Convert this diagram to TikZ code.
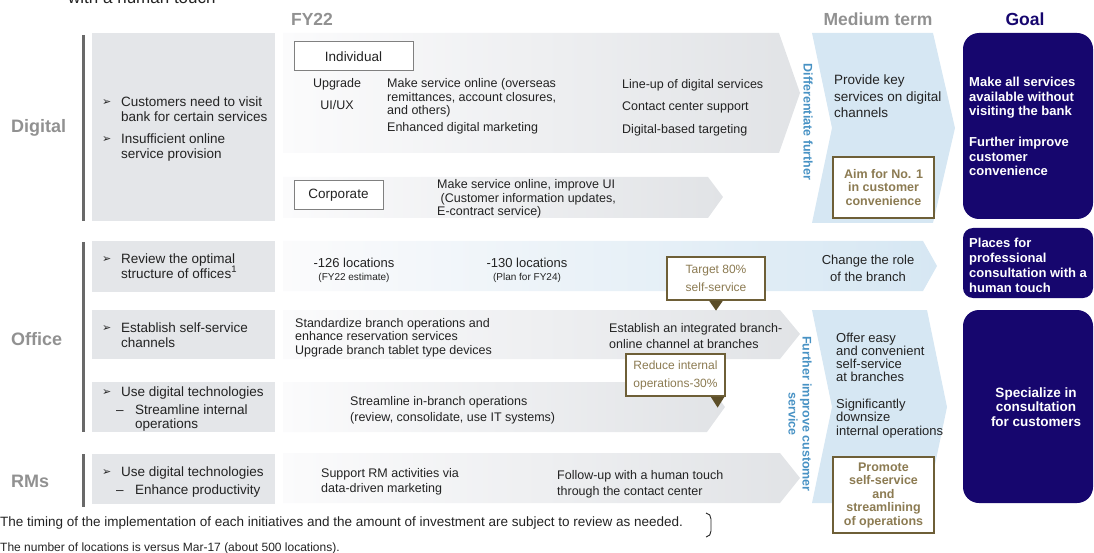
\documentclass[tikz,border=0pt]{standalone}
\usepackage{fontspec}
\setmainfont{Liberation Sans}
\newfontfamily\symfont{DejaVu Sans}

\newcommand{\fsz}[2]{\fontsize{#1}{#2}\selectfont}

\definecolor{headgray}{RGB}{145,145,145}
\definecolor{boxgray}{RGB}{228,230,233}
\definecolor{bargray}{RGB}{105,105,105}
\definecolor{arrowgray}{RGB}{225,227,230}
\definecolor{arrowwhite}{RGB}{251,251,252}
\definecolor{medblue}{RGB}{214,231,243}
\definecolor{vertblue}{RGB}{72,146,196}
\definecolor{goalnavy}{RGB}{22,6,110}
\definecolor{oliveline}{RGB}{110,95,55}
\definecolor{olivetxt}{RGB}{140,123,82}
\definecolor{olivedark}{RGB}{92,78,40}
\definecolor{txtdark}{RGB}{35,35,35}

\tikzset{
  heading/.style={anchor=base, inner sep=0, font=\bfseries\fsz{17.5}{18}, text=headgray},
  rowlabel/.style={anchor=west, inner sep=0, font=\bfseries\fsz{18}{19}, text=headgray},
  bar/.style={line width=3, bargray},
  bulletsym/.style={anchor=base west, inner sep=0, font=\symfont\fsz{11}{11}, text=txtdark},
  lefttxt/.style={anchor=base west, inner sep=0, align=left, font=\fsz{13.5}{15}, text=txtdark},
  fytxt/.style={anchor=base west, inner sep=0, align=left, font=\fsz{12.5}{13.5}, text=txtdark},
  smalltxt/.style={anchor=base, inner sep=0, font=\fsz{10}{11}, text=txtdark},
  medtxt/.style={anchor=base west, inner sep=0, align=left, font=\fsz{13}{13}, text=txtdark},
  goaltxt/.style={anchor=base west, inner sep=0, align=left, font=\bfseries\fsz{13}{14.5}, text=white},
  catbox/.style={draw=gray, line width=1, fill=white, inner sep=0, minimum height=29, font=\fsz{13.5}{14}, text=txtdark},
  olivebox/.style={draw=oliveline, line width=2, fill=white, inner sep=0, minimum width=101, align=center, font=\bfseries\fsz{12.5}{13.5}, text=olivetxt},
  callout/.style={draw=oliveline, line width=1.2, fill=white, inner sep=0, align=center, font=\fsz{12}{18}, text=olivetxt},
  verttxt/.style={inner sep=0, rotate=-90, align=center, font=\bfseries\fsz{12.5}{14}, text=vertblue},
  goalbox/.style={fill=goalnavy, rounded corners=16}
}

\begin{document}
\begin{tikzpicture}[x=1pt,y=-1pt]
\useasboundingbox (0,0) rectangle (1094,553);

%TITLE LINE (cut off at the top)
\node[anchor=base west, inner sep=0, font=\fsz{17}{18}, text=txtdark] (toptxt) at (68,4) {with a human touch};

%HEADINGS
\node[heading] (hfy) at (312,26) {FY22};
\node[heading] (hmed) at (878,26) {Medium term};
\node[heading, text=goalnavy] (hgoal) at (1025,26) {Goal};

%ROW LABELS AND BARS
\node[rowlabel] (ldig) at (11,128) {Digital};
\node[rowlabel] (loff) at (11,339) {Office};
\node[rowlabel] (lrms) at (11,481) {RMs};
\draw[bar] (83,35) -- (83,221);
\draw[bar] (83,242) -- (83,432);
\draw[bar] (83,454) -- (83,507);

%LEFT BOXES
\fill[boxgray] (92,33) rectangle (275,221);
\fill[boxgray] (92,241) rectangle (275,292);
\fill[boxgray] (92,310) rectangle (275,359);
\fill[boxgray] (92,382) rectangle (275,432);
\fill[boxgray] (92,454) rectangle (275,504);

%MEDIUM TERM CHEVRONS
\fill[medblue] (812,33) -- (933,33) -- (955,128) -- (933,223) -- (812,223) -- (832,128) -- cycle;
\fill[medblue] (812,310) -- (927,310) -- (947,407) -- (927,503) -- (812,503) -- (832,407) -- cycle;

%FY22 ARROWS
\shade[left color=arrowwhite, right color=arrowgray] (283,33) -- (779,33) -- (800,93) -- (779,153) -- (283,153) -- cycle;
\shade[left color=arrowwhite, right color=arrowgray] (283,177) -- (708,177) -- (723,197) -- (708,218) -- (283,218) -- cycle;
\shade[left color=arrowwhite, right color=medblue] (283,241) -- (923,241) -- (937,266) -- (923,291) -- (283,291) -- cycle;
\shade[left color=arrowwhite, right color=arrowgray] (283,310) -- (780,310) -- (800,334) -- (780,359) -- (283,359) -- cycle;
\shade[left color=arrowwhite, right color=arrowgray] (283,382) -- (707,382) -- (725,407) -- (707,432) -- (283,432) -- cycle;
\shade[left color=arrowwhite, right color=arrowgray] (283,453) -- (780,453) -- (800,478) -- (780,503) -- (283,503) -- cycle;

%GOAL BOXES
\fill[goalbox] (963,33) rectangle (1093,219);
\fill[goalbox, rounded corners=10] (963,228) rectangle (1093,298);
\fill[goalbox] (963,310) rectangle (1093,503);

%ROW DIGITAL (base = last line)
\node[bulletsym] (bdig1) at (102,106) {➢};
\node[lefttxt] (tdig1) at (121,122) {Customers need to visit\\bank for certain services};
\node[bulletsym] (bdig2) at (102,143) {➢};
\node[lefttxt] (tdig2) at (121,159) {Insufficient online\\service provision};

\node[catbox, minimum width=119] (indiv) at (353.5,56.5) {Individual};
\node[fytxt, anchor=base] (upg) at (337,88) {Upgrade};
\node[fytxt, anchor=base] (uiux) at (337,110) {UI/UX};
\node[fytxt] (online) at (387,115) {Make service online (overseas\\remittances, account closures,\\and others)};
\node[fytxt] (mkt) at (387,132) {Enhanced digital marketing};
\node[fytxt] (lineup) at (622,89) {Line-up of digital services};
\node[fytxt] (contact) at (622,111) {Contact center support};
\node[fytxt] (target) at (622,134) {Digital-based targeting};

\node[catbox, minimum width=89] (corp) at (338.5,195.5) {Corporate};
\node[fytxt] (corptxt) at (437,216) {Make service online, improve UI\\\ (Customer information updates,\\E-contract service)};

\node[medtxt, font=\fsz{13.5}{16.5}] (provide) at (834,118) {Provide key\\services on digital\\channels};
\node[olivebox, minimum height=61] (aim) at (883.5,187.5) {Aim for No. 1\\in customer\\convenience};
\node[verttxt] (vdiff) at (808,122) {Differentiate further};

\node[goaltxt] (gmake) at (969,116) {Make all services\\available without\\visiting the bank};
\node[goaltxt] (gfurther) at (969,176) {Further improve\\customer\\convenience};

%ROW OFFICE 1
\node[bulletsym] (boff1) at (102,262) {➢};
\node[lefttxt] (toff1) at (121,278) {Review the optimal\\structure of offices\textsuperscript{1}};
\node[fytxt, anchor=base, font=\fsz{13}{14}] (loc126) at (354,267) {-126 locations};
\node[smalltxt] (est22) at (354,280) {(FY22 estimate)};
\node[fytxt, anchor=base, font=\fsz{13}{14}] (loc130) at (527,267) {-130 locations};
\node[smalltxt] (plan24) at (527,280) {(Plan for FY24)};
\node[medtxt, anchor=base, align=center, font=\fsz{13}{17}] (role) at (868,281) {Change the role\\of the branch};
\node[goaltxt, font=\bfseries\fsz{13}{15}] (gplaces) at (969,292) {Places for\\professional\\consultation with a\\human touch};

%ROW OFFICE 2
\node[bulletsym] (boff2) at (102,331) {➢};
\node[lefttxt] (toff2) at (121,347) {Establish self-service\\channels};
\node[fytxt] (stand) at (295,354) {Standardize branch operations and\\enhance reservation services\\Upgrade branch tablet type devices};
\node[fytxt, font=\fsz{12.5}{16}] (integ) at (609,348) {Establish an integrated branch-\\online channel at branches};

%ROW OFFICE 3
\node[bulletsym] (boff3) at (102,395) {➢};
\node[lefttxt] (toff3) at (121,396) {Use digital technologies};
\node[lefttxt] (doff3) at (116,414) {--};
\node[lefttxt, font=\fsz{13.5}{14}] (soff3) at (135,428) {Streamline internal\\operations};
\node[fytxt, font=\fsz{12.5}{16}] (stream) at (350,421) {Streamline in-branch operations\\(review, consolidate, use IT systems)};

\node[medtxt] (offer) at (836,381) {Offer easy\\and convenient\\self-service\\at branches};
\node[medtxt, font=\fsz{13}{13.5}] (downs) at (836,435) {Significantly\\downsize\\internal operations};
\node[verttxt] (vserv) at (800,414) {Further improve customer\\service};
\node[goaltxt, anchor=center, align=center, font=\bfseries\fsz{13.5}{14.5}] (gspec) at (1036,407) {Specialize in\\consultation\\for customers};

%CALLOUTS
\node[callout, minimum width=98, minimum height=43] (tgt) at (716,278.5) {Target 80\%\\self-service};
\fill[olivedark] (tgt.south) ++(-7,0) -- ++(14,0) -- ++(-7,10) -- cycle;
\node[callout, minimum width=99, minimum height=42] (red) at (675.5,375) {Reduce internal\\operations-30\%};
\fill[olivedark] (red.south east) ++(-15,0) -- ++(14,0) -- ++(-7,11) -- cycle;

%ROW RMS
\node[bulletsym] (brms) at (102,475) {➢};
\node[lefttxt] (trms) at (121,476) {Use digital technologies};
\node[lefttxt] (drms) at (116,494) {--};
\node[lefttxt] (srms) at (135,494) {Enhance productivity};
\node[fytxt, font=\fsz{12.5}{15}] (support) at (321,492) {Support RM activities via\\data-driven marketing};
\node[fytxt, font=\fsz{12.5}{16}] (follow) at (557,495) {Follow-up with a human touch\\through the contact center};
\node[olivebox, minimum height=76] (promote) at (883.5,495) {Promote\\self-service\\and\\streamlining\\of operations};

%FOOTNOTES
\node[anchor=base west, inner sep=0, font=\fsz{13.5}{14}, text=txtdark] (fn1) at (0,526) {The timing of the implementation of each initiatives and the amount of investment are subject to review as needed.};
\draw[line width=0.9, txtdark] (706,513) to[out=0,in=90] (711,519) -- (711,531) to[out=-90,in=0] (706,537);
\node[anchor=base west, inner sep=0, font=\fsz{12}{12}, text=txtdark] (fn2) at (0,551) {The number of locations is versus Mar-17 (about 500 locations).};

\end{tikzpicture}
\end{document}
